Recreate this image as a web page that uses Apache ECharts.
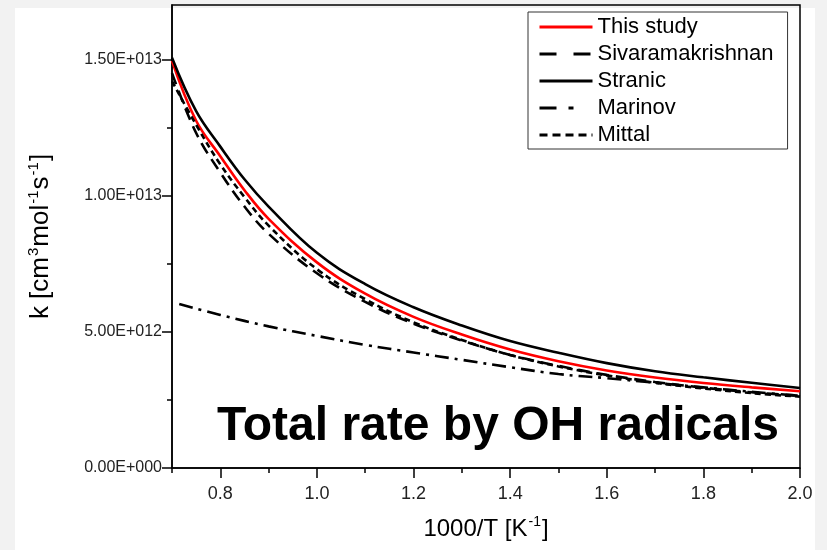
<!DOCTYPE html>
<html><head><meta charset="utf-8">
<script src="https://cdn.jsdelivr.net/npm/echarts@6/dist/echarts.min.js"></script>
<style>html,body{margin:0;padding:0;background:#fff}#c{width:827px;height:550px}</style>
</head><body><div id="c"></div>
<script>
const seriesNames = ['This study', 'Sivaramakrishnan', 'Stranic', 'Marinov', 'Mittal'];
const xMain = [0.7, 0.75, 0.8, 0.85, 0.9, 1.0, 1.1, 1.2, 1.3, 1.4, 1.5, 1.6, 1.7, 1.8, 1.9, 2.0];
const thisStudy = [14.95e12, 12.75e12, 11.45e12, 10.2e12, 9.15e12, 7.55e12, 6.4e12, 5.55e12, 4.9e12, 4.35e12, 3.92e12, 3.58e12, 3.32e12, 3.12e12, 2.96e12, 2.82e12];
const sivaramakrishnan = [14.5e12, 12.3e12, 10.85e12, 9.6e12, 8.6e12, 7.15e12, 6.1e12, 5.3e12, 4.68e12, 4.15e12, 3.75e12, 3.42e12, 3.16e12, 2.95e12, 2.78e12, 2.65e12];
const stranic = [15.06e12, 13.1e12, 11.8e12, 10.6e12, 9.6e12, 7.9e12, 6.75e12, 5.9e12, 5.23e12, 4.66e12, 4.23e12, 3.85e12, 3.55e12, 3.33e12, 3.13e12, 2.94e12];
const mittal = [14.2e12, 12.6e12, 11.15e12, 9.95e12, 8.9e12, 7.3e12, 6.2e12, 5.35e12, 4.7e12, 4.15e12, 3.73e12, 3.4e12, 3.13e12, 2.92e12, 2.75e12, 2.62e12];
const xMarinov = [0.715, 0.8, 0.9, 1.0, 1.1, 1.2, 1.3, 1.4, 1.5, 1.6, 1.7, 1.8, 1.9, 2.0];
const marinov = [6.02e12, 5.62e12, 5.2e12, 4.85e12, 4.52e12, 4.24e12, 3.97e12, 3.7e12, 3.45e12, 3.3e12, 3.13e12, 2.96e12, 2.8e12, 2.65e12];
const xTickValues = [0.8, 1.0, 1.2, 1.4, 1.6, 1.8, 2.0];
const xTickLabels = ['0.8', '1.0', '1.2', '1.4', '1.6', '1.8', '2.0'];
const xMinorTicks = [0.7, 0.9, 1.1, 1.3, 1.5, 1.7, 1.9];
const yTickValues = [0, 5e12, 10e12, 15e12];
const yTickLabels = ['0.00E+000', '5.00E+012', '1.00E+013', '1.50E+013'];
const yMinorTicks = [2.5e12, 7.5e12, 12.5e12];
const annotation = 'Total rate by OH radicals';

const zip = (xs, ys) => xs.map((x, i) => [x, ys[i]]);
const FONT = '"Liberation Sans", Arial, sans-serif';

function lineSeries(name, xs, ys, color, type) {
  return {
    name, type: 'line', data: zip(xs, ys), showSymbol: false, symbol: 'none',
    smooth: 0.4, xAxisIndex: 0, yAxisIndex: 0,
    lineStyle: { color, width: 2.6, type }, itemStyle: { color },
    emphasis: { disabled: true }, z: 3
  };
}
const xRich = {
  n: { fontFamily: FONT, fontSize: 24, color: '#000', lineHeight: 26, verticalAlign: 'bottom' },
  s: { fontFamily: FONT, fontSize: 14, color: '#000', lineHeight: 26, verticalAlign: 'top', padding: [0, 1, 0, 1] }
};
const yRich = {
  n: { fontFamily: FONT, fontSize: 26, color: '#000', lineHeight: 28, verticalAlign: 'bottom' },
  s: { fontFamily: FONT, fontSize: 15, color: '#000', lineHeight: 28, verticalAlign: 'top', padding: [0, 1, 0, 1] }
};
const legendDash = [null, [17, 17], null, [17, 12, 5, 30], [8, 5]];

const chart = echarts.init(document.getElementById('c'), null, { renderer: 'canvas' });
chart.setOption({
  animation: false,
  backgroundColor: '#f2f2f2',
  graphic: [
    { type: 'rect', left: 15, top: 8, shape: { width: 800, height: 542 }, style: { fill: '#ffffff' }, z: -10, silent: true },
    { type: 'text', left: 217, top: 403, z: 10,
      style: { text: annotation, font: 'bold 48px "Liberation Sans", Arial, sans-serif', fill: '#000' } }
  ],
  grid: { left: 172, right: 27, top: 5, bottom: 82, show: true, borderColor: '#000', borderWidth: 1.5, backgroundColor: 'transparent' },
  legend: {
    orient: 'vertical', left: 528, top: 12,
    data: seriesNames.map((n, i) => legendDash[i] ? { name: n, lineStyle: { type: legendDash[i] } } : { name: n }),
    backgroundColor: '#fff', borderColor: '#333', borderWidth: 1,
    padding: [4, 14, 3, 10], itemGap: 5, itemWidth: 53, itemHeight: 14,
    itemStyle: { opacity: 0 },
    lineStyle: { width: 3 },
    textStyle: { fontFamily: FONT, fontSize: 22, color: '#000', lineHeight: 22 },
    selectedMode: false
  },
  xAxis: [{
    type: 'value', min: 0.7, max: 2.0, position: 'bottom',
    axisLine: { show: true, lineStyle: { color: '#000', width: 1.5 } },
    axisTick: { show: true, inside: false, length: 10, lineStyle: { color: '#000', width: 1.5 }, customValues: xTickValues },
    axisLabel: { customValues: xTickValues, formatter: v => { const i = xTickValues.findIndex(t => Math.abs(t - v) < 1e-9); return i >= 0 ? xTickLabels[i] : ''; },
      fontFamily: FONT, fontSize: 18, color: '#222', margin: 17 },
    splitLine: { show: false },
    name: '{n|1000/T [K}{s|-1}{n|]}', nameLocation: 'middle', nameGap: 47,
    nameTextStyle: { rich: xRich }
  }, {
    type: 'value', min: 0.7, max: 2.0, position: 'bottom', gridIndex: 0,
    axisLine: { show: false },
    axisTick: { show: true, length: 5, lineStyle: { color: '#000', width: 1.5 }, customValues: xMinorTicks },
    axisLabel: { show: false }, splitLine: { show: false }
  }],
  yAxis: [{
    type: 'value', min: 0, max: 17e12, position: 'left',
    axisLine: { show: true, lineStyle: { color: '#000', width: 1.5 } },
    axisTick: { show: true, length: 10, lineStyle: { color: '#000', width: 1.5 }, customValues: yTickValues },
    axisLabel: { customValues: yTickValues, formatter: v => { const i = yTickValues.findIndex(t => Math.abs(t - v) < 1); return i >= 0 ? yTickLabels[i] : ''; },
      fontFamily: FONT, fontSize: 16, color: '#222', margin: 10 },
    splitLine: { show: false },
    name: '{n|k [cm}{s|3}{n|mol}{s|-1}{n|s}{s|-1}{n|]}', nameLocation: 'middle', nameGap: 118, nameRotate: 90,
    nameTextStyle: { rich: yRich }
  }, {
    type: 'value', min: 0, max: 17e12, position: 'left',
    axisLine: { show: false },
    axisTick: { show: true, length: 5, lineStyle: { color: '#000', width: 1.5 }, customValues: yMinorTicks },
    axisLabel: { show: false }, splitLine: { show: false }
  }],
  series: [
    lineSeries(seriesNames[0], xMain, thisStudy, '#ff0000', 'solid'),
    lineSeries(seriesNames[1], xMain, sivaramakrishnan, '#000', [12, 7]),
    lineSeries(seriesNames[2], xMain, stranic, '#000', 'solid'),
    lineSeries(seriesNames[3], xMarinov, marinov, '#000', [14, 6, 3, 6]),
    lineSeries(seriesNames[4], xMain, mittal, '#000', [6, 4])
  ]
});
</script></body></html>
